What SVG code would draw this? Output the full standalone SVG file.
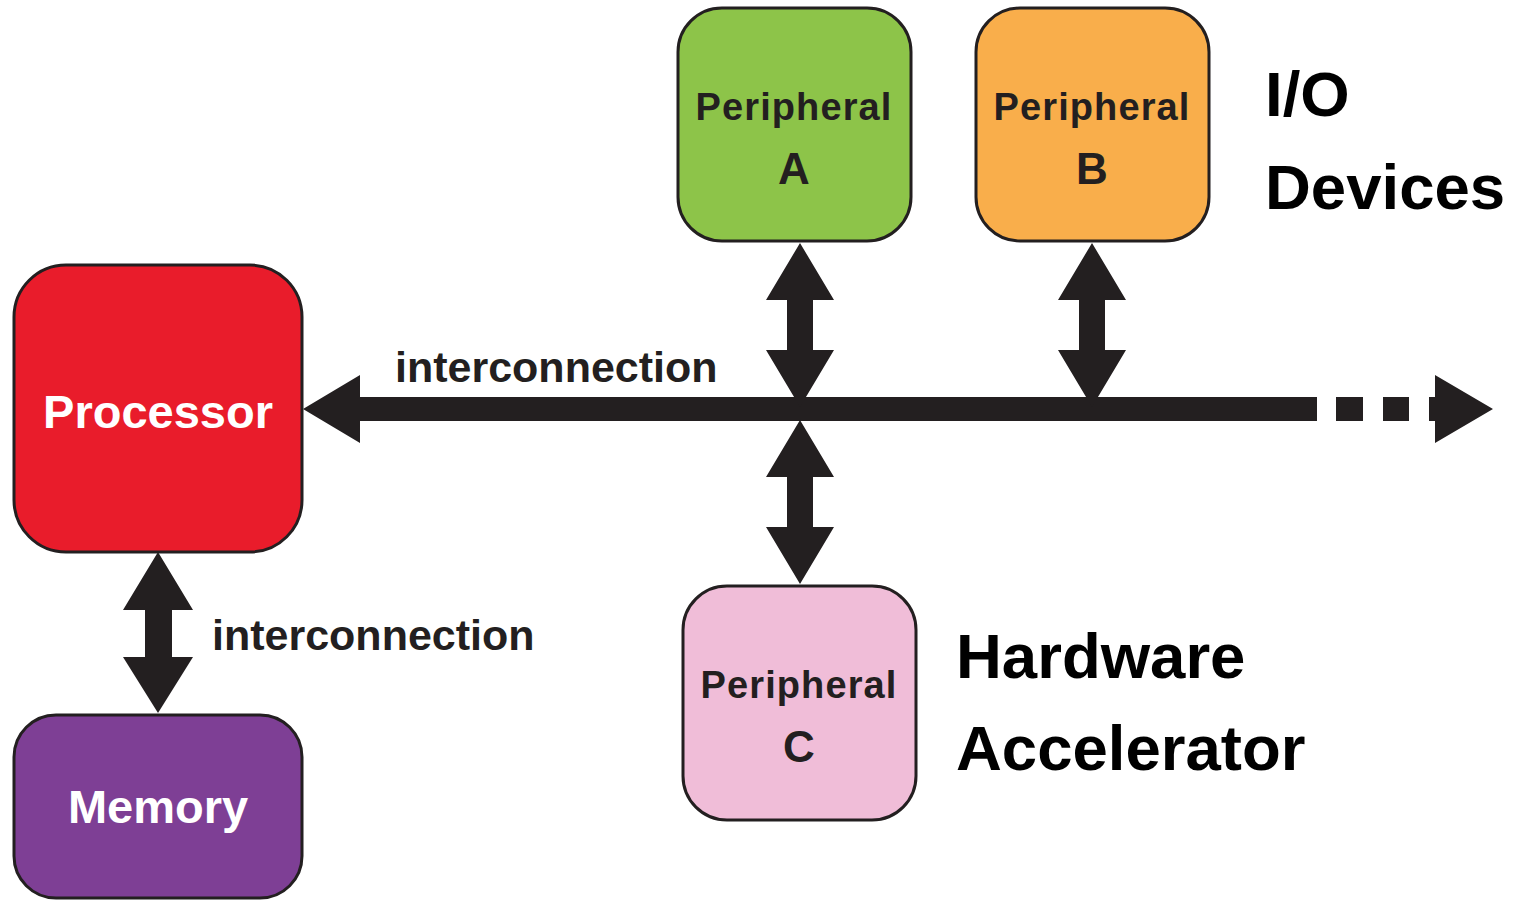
<svg xmlns="http://www.w3.org/2000/svg" width="1519" height="900" viewBox="0 0 1519 900">
  <style>
    .box { stroke: #231f20; stroke-width: 3; }
    .ink { fill: #231f20; }
    .lbl { font-family: "Liberation Sans", Arial, sans-serif; font-weight: bold; }
    .white { fill: #ffffff; font-size: 47px; text-anchor: middle; }
    .per { fill: #231f20; font-size: 38px; letter-spacing: 1.1px; text-anchor: middle; }
    .letter { fill: #231f20; font-size: 44px; text-anchor: middle; }
    .bus { fill: #231f20; font-size: 43px; }
    .note { fill: #000000; font-size: 63.5px; }
  </style>
  <defs>
    <!-- double-headed vertical arrow, 164 px long, centred on x=0, starting at y=0 -->
    <path id="dbl" d="M0,0 L34,57 L13,57 L13,107 L34,107 L0,164 L-34,107 L-13,107 L-13,57 L-34,57 Z"/>
  </defs>
  <rect width="1519" height="900" fill="#ffffff"/>

  <!-- connectors -->
  <g id="connectors" class="ink">
    <!-- main bus -->
    <path d="M303,409 L360,375 L360,397 L1317,397 L1317,421 L360,421 L360,443 Z"/>
    <rect x="1336" y="397" width="27" height="24"/>
    <rect x="1383" y="397" width="26" height="24"/>
    <path d="M1429,397 L1435,397 L1435,375 L1493,409 L1435,443 L1435,421 L1429,421 Z"/>
    <!-- taps -->
    <use href="#dbl" x="800" y="243"/>
    <use href="#dbl" x="1092" y="243"/>
    <use href="#dbl" x="800" y="420"/>
    <!-- processor to memory -->
    <path d="M158,552 L193,610 L172,610 L172,657 L193,657 L158,713 L123,657 L145,657 L145,610 L123,610 Z"/>
  </g>

  <g id="processor">
    <rect class="box" x="14" y="265" width="288" height="287" rx="52" fill="#e91c2b"/>
    <text class="lbl white" x="158" y="428">Processor</text>
  </g>

  <g id="memory">
    <rect class="box" x="14" y="715" width="288" height="183" rx="42" fill="#7e3f95"/>
    <text class="lbl white" x="158" y="823">Memory</text>
  </g>

  <g id="peripheral-a">
    <rect class="box" x="678" y="8" width="233" height="233" rx="44" fill="#8dc449"/>
    <text class="lbl per" x="794" y="120">Peripheral</text>
    <text class="lbl letter" x="794" y="184">A</text>
  </g>

  <g id="peripheral-b">
    <rect class="box" x="976" y="8" width="233" height="233" rx="44" fill="#f9ae4b"/>
    <text class="lbl per" x="1092" y="120">Peripheral</text>
    <text class="lbl letter" x="1092" y="184">B</text>
  </g>

  <g id="peripheral-c">
    <rect class="box" x="683" y="586" width="233" height="234" rx="44" fill="#f0bdd8"/>
    <text class="lbl per" x="799" y="698">Peripheral</text>
    <text class="lbl letter" x="799" y="762">C</text>
  </g>

  <!-- labels -->
  <g id="labels">
    <text class="lbl bus" x="395" y="382">interconnection</text>
    <text class="lbl bus" x="212" y="650">interconnection</text>
    <text class="lbl note" x="1265" y="116">I/O</text>
    <text class="lbl note" x="1265" y="209">Devices</text>
    <text class="lbl note" x="956" y="678">Hardware</text>
    <text class="lbl note" x="956" y="770">Accelerator</text>
  </g>
</svg>
